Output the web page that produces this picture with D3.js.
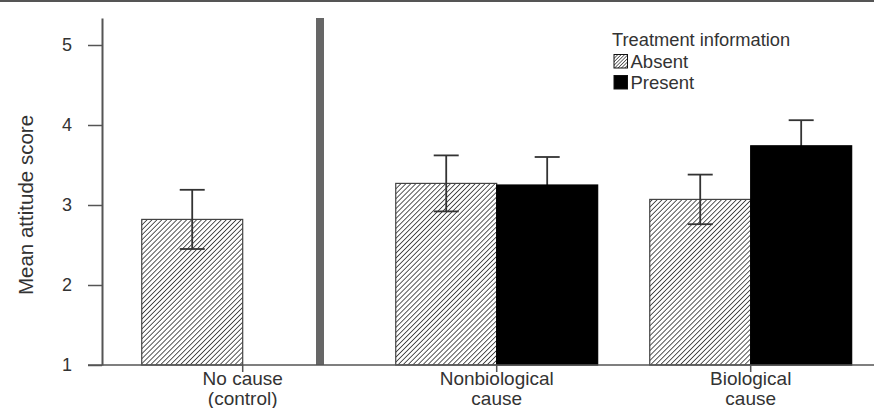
<!DOCTYPE html>
<html>
<head>
<meta charset="utf-8">
<script src="https://cdn.jsdelivr.net/npm/d3@7"></script>
<style>
  body { margin: 0; background: #fff; }
  svg { display: block; font-family: "Liberation Sans", Arial, sans-serif; }
</style>
</head>
<body>
<figure id="bar" style="margin:0"></figure>
<script>
// chart values
const categories = ["No cause (control)", "Nonbiological cause", "Biological cause"];
const categoryLines = [["No cause", "(control)"], ["Nonbiological", "cause"], ["Biological", "cause"]];
const series = ["Absent", "Present"];
const absentMeans = [2.82, 3.27, 3.07];
const absentErrors = [0.37, 0.35, 0.31];
const presentMeans = [null, 3.25, 3.74];
const presentErrors = [null, 0.35, 0.32];
const yTicks = [1, 2, 3, 4, 5];

const width = 874, height = 408;
const axisColor = "#555";
const textColor = "#333";

const svg = d3.select("figure#bar")
  .append("svg")
  .attr("width", width)
  .attr("height", height);

// hatch pattern for "Absent"
const defs = svg.append("defs");
defs.append("pattern")
  .attr("id", "hatch")
  .attr("patternUnits", "userSpaceOnUse")
  .attr("width", 3.5)
  .attr("height", 3.5)
  .attr("patternTransform", "rotate(45)")
  .call(p => {
    p.append("rect").attr("width", 3.5).attr("height", 3.5).attr("fill", "#fff");
    p.append("line").attr("x1", 0).attr("y1", 0).attr("x2", 0).attr("y2", 3.5)
      .attr("stroke", "#3a3a3a").attr("stroke-width", 1.7);
  });
defs.append("pattern")
  .attr("id", "hatchSmall")
  .attr("patternUnits", "userSpaceOnUse")
  .attr("width", 2.4)
  .attr("height", 2.4)
  .attr("patternTransform", "rotate(45)")
  .call(p => {
    p.append("rect").attr("width", 2.4).attr("height", 2.4).attr("fill", "#fff");
    p.append("line").attr("x1", 0).attr("y1", 0).attr("x2", 0).attr("y2", 2.4)
      .attr("stroke", "#222").attr("stroke-width", 1.3);
  });

// top rule
svg.append("rect")
  .attr("x", 0).attr("y", 0)
  .attr("width", width).attr("height", 2)
  .attr("fill", "#555");

// scales
const y = d3.scaleLinear()
  .domain([1, 5.3375])
  .range([365, 18]);

const x = d3.scaleBand()
  .domain(categories)
  .range([115.7, 877.7])
  .paddingInner(0.205)
  .paddingOuter(0.1025);

const xSub = d3.scaleBand()
  .domain(series)
  .range([0, x.bandwidth()]);

// table of bars built from the arrays
const bars = [];
categories.forEach((c, i) => {
  if (absentMeans[i] != null) bars.push({ cat: c, s: "Absent", v: absentMeans[i], e: absentErrors[i] });
  if (presentMeans[i] != null) bars.push({ cat: c, s: "Present", v: presentMeans[i], e: presentErrors[i] });
});

// separator between control and experimental conditions
svg.append("rect")
  .attr("x", 316)
  .attr("y", y(5.3375))
  .attr("width", 8)
  .attr("height", y(1) - y(5.3375))
  .attr("fill", "#666");

function drawError(g, d) {
  const cx = x(d.cat) + xSub(d.s) + xSub.bandwidth() / 2;
  g.append("line")
    .attr("x1", cx).attr("x2", cx)
    .attr("y1", y(d.v + d.e)).attr("y2", y(d.v - d.e));
  g.append("line")
    .attr("x1", cx - 12.5).attr("x2", cx + 12.5)
    .attr("y1", y(d.v + d.e)).attr("y2", y(d.v + d.e));
  g.append("line")
    .attr("x1", cx - 12.5).attr("x2", cx + 12.5)
    .attr("y1", y(d.v - d.e)).attr("y2", y(d.v - d.e));
}

// error bars behind the solid bars (hidden inside black)
const errBack = svg.append("g")
  .attr("stroke", "#333")
  .attr("stroke-width", 1.8);
bars.filter(d => d.s === "Present").forEach(d => drawError(errBack, d));

// bars
svg.selectAll("rect.bar")
  .data(bars)
  .enter()
  .append("rect")
  .attr("class", "bar")
  .attr("x", d => x(d.cat) + xSub(d.s))
  .attr("y", d => y(d.v))
  .attr("width", xSub.bandwidth())
  .attr("height", d => y(1) - y(d.v))
  .attr("fill", d => d.s === "Absent" ? "url(#hatch)" : "#000")
  .attr("stroke", d => d.s === "Absent" ? "#444" : "#000")
  .attr("stroke-width", 1.2);

// error bars over the hatched bars
const errFront = svg.append("g")
  .attr("stroke", "#333")
  .attr("stroke-width", 1.8);
bars.filter(d => d.s === "Absent").forEach(d => drawError(errFront, d));

// y axis
const yAxis = svg.append("g")
  .attr("transform", "translate(102,0)")
  .call(d3.axisLeft(y).tickValues(yTicks).tickSizeInner(14).tickSizeOuter(0).tickPadding(16).tickFormat(d3.format("d")));
yAxis.select(".domain").attr("stroke", axisColor).attr("stroke-width", 2);
yAxis.selectAll(".tick line").attr("stroke", axisColor).attr("stroke-width", 1.5);
yAxis.selectAll(".tick text")
  .attr("font-size", 18)
  .attr("font-family", "Liberation Sans, Arial, sans-serif")
  .attr("fill", textColor);

// x axis line
svg.append("line")
  .attr("x1", 88).attr("x2", width)
  .attr("y1", y(1)).attr("y2", y(1))
  .attr("stroke", axisColor)
  .attr("stroke-width", 1.5);

// category ticks and labels
const catG = svg.selectAll("g.cat")
  .data(categories)
  .enter()
  .append("g")
  .attr("class", "cat")
  .attr("transform", d => "translate(" + (x(d) + x.bandwidth() / 2) + "," + y(1) + ")");
catG.append("line")
  .attr("y1", 0).attr("y2", 7)
  .attr("stroke", axisColor)
  .attr("stroke-width", 1.5);
catG.append("text")
  .attr("text-anchor", "middle")
  .attr("font-size", 19)
  .attr("fill", textColor)
  .selectAll("tspan")
  .data((d, i) => categoryLines[i])
  .enter()
  .append("tspan")
  .attr("x", 0)
  .attr("y", (d, i) => 20 + i * 20)
  .text(d => d);

// y axis title
svg.append("text")
  .attr("transform", "translate(33,205) rotate(-90)")
  .attr("text-anchor", "middle")
  .attr("font-size", 20.5)
  .attr("fill", textColor)
  .text("Mean attitude score");

// legend
const legend = svg.append("g");
legend.append("text")
  .attr("x", 612).attr("y", 46)
  .attr("font-size", 18.3)
  .attr("fill", textColor)
  .text("Treatment information");
const legendRows = legend.selectAll("g.row")
  .data(series)
  .enter()
  .append("g")
  .attr("class", "row")
  .attr("transform", (d, i) => "translate(614," + (54.5 + i * 21) + ")");
legendRows.append("rect")
  .attr("width", 13.5).attr("height", 13.5)
  .attr("fill", d => d === "Absent" ? "url(#hatchSmall)" : "#000")
  .attr("stroke", "#111")
  .attr("stroke-width", 1);
legendRows.append("text")
  .attr("x", 16.5).attr("y", 13.5)
  .attr("font-size", 18.5)
  .attr("fill", textColor)
  .text(d => d);
</script>
</body>
</html>
